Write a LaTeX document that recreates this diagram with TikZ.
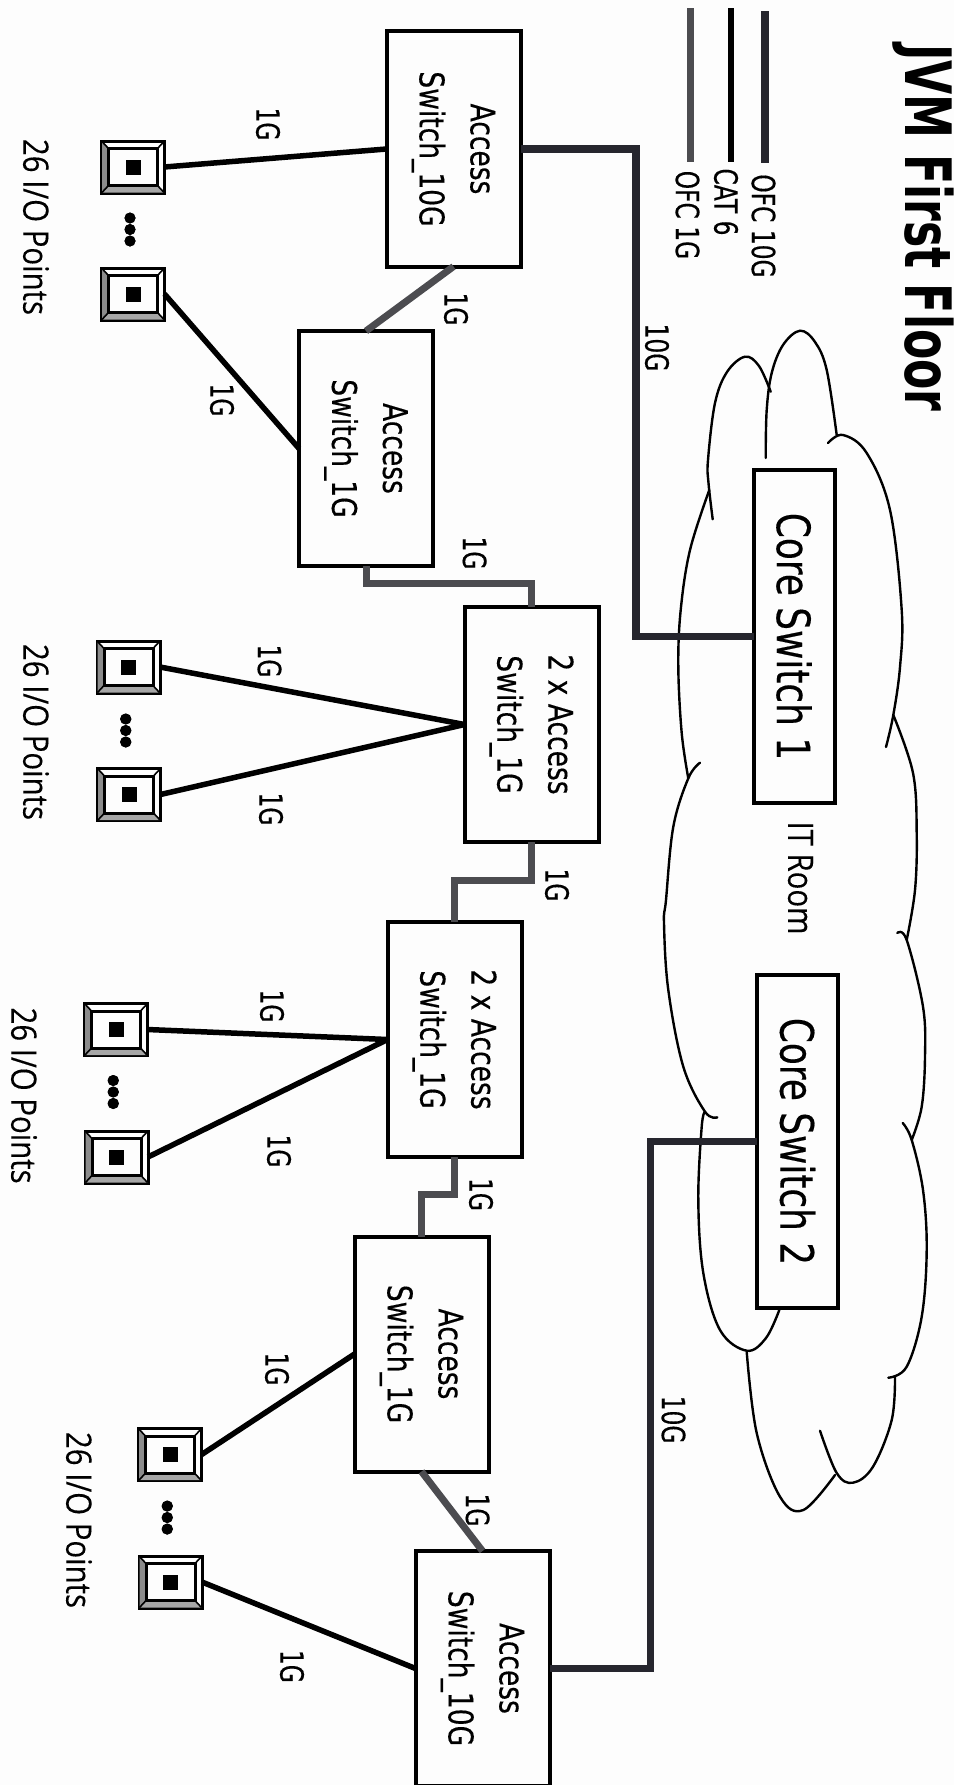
\documentclass[tikz,border=0pt]{standalone}
\usepackage{fontspec}
\setmainfont{DejaVu Sans}
\newfontfamily\boxfont[FakeStretch=.78,FakeBold=.3]{DejaVu Sans}
\newfontfamily\lblfont[FakeStretch=.73,FakeBold=.3]{DejaVu Sans}
\newfontfamily\ttlfont[FakeStretch=.69]{DejaVu Sans}
\newfontfamily\iofont[FakeStretch=.84,FakeBold=.2]{Open Sans}
\definecolor{paper}{HTML}{FDFDFD}
\definecolor{ofcten}{HTML}{26262E}
\definecolor{ofcone}{HTML}{4C4C50}
\tikzset{
  every node/.style={inner sep=0pt,outer sep=0pt},
  swbox/.style={draw=black,line width=4pt,rotate=-90,minimum width=235pt,minimum height=134pt,align=center,
    font=\boxfont\fontsize{34}{51}\selectfont},
  corebox/.style={draw=black,line width=4pt,rotate=-90,minimum width=333pt,minimum height=81pt,
    font=\boxfont\fontsize{46}{50}\selectfont},
  lbl/.style={rotate=-90,font=\lblfont\fontsize{32}{36}\selectfont},
  iotext/.style={rotate=-90,font=\iofont\fontsize{35}{40}\selectfont},
  titletext/.style={rotate=-90,font=\ttlfont\bfseries\fontsize{64}{70}\selectfont},
  outletbox/.style={draw=black,line width=3pt,minimum width=63pt,minimum height=52pt},
  tenwire/.style={draw=ofcten,line width=7.5pt},
  catwire/.style={draw=black,line width=5.5pt},
  onewire/.style={draw=ofcone,line width=7pt},
  cloudline/.style={draw=black,line width=2.4pt,line cap=round},
}
\newcommand{\outletmark}[4]{% name, x, y, dots offset
  \node[outletbox] (#1) at (#2,#3) {};
  \begin{scope}[shift={(#1)}]
    \fill[gray!70] (-31,25.5) -- (31,25.5) -- (24.5,18.5) -- (-24.5,18.5) -- cycle;
    \fill[black!45] (-31,-25.5) -- (-24.5,-18.5) -- (-24.5,18.5) -- (-31,25.5) -- cycle;
    \draw[line width=3pt] (-24.5,-18.5) rectangle (24.5,18.5);
    \draw[line width=1.6pt] (-31,-25.5) -- (-24.5,-18.5) (31,-25.5) -- (24.5,-18.5)
      (-31,25.5) -- (-24.5,18.5) (31,25.5) -- (24.5,18.5);
    \fill (-7.5,-7.5) rectangle (7.5,7.5);
    \fill (-3,#4-11.5) circle[radius=5.5pt];
    \fill (-3,#4) circle[radius=5.5pt];
    \fill (-3,#4+11.5) circle[radius=5.5pt];
  \end{scope}
}
\begin{document}
\begin{tikzpicture}[x=1pt,y=-1pt]
\useasboundingbox (0,0) rectangle (954,1785);
\fill[paper] (0,0) rectangle (954,1785);

% cloud
\draw[cloudline] plot[smooth,tension=.6] coordinates {(712.7,519.3)(708.5,483)(708,460)(715,403)(727,372)(745,356.7)(759,366)(770.7,391.7)};
\draw[cloudline] plot[smooth,tension=.6] coordinates {(765.7,458)(766.7,410)(771.7,373)(783,345)(800,330.7)(815,342)(826.7,370)(836.7,435)};
\draw[cloudline] plot[smooth,tension=.6] coordinates {(828,443)(843,435)(866.7,453)(890,510)(901.7,610)(900,667)(893.3,715)(886,747)};
\draw[cloudline] plot[smooth,tension=.6] coordinates {(893.3,715)(913,773)(916.7,833)(915,890)(906.7,940)};
\draw[cloudline] plot[smooth,tension=.6] coordinates {(897.3,933)(906.7,940)(923,1006.7)(925,1056.7)(921.7,1106.7)(911.7,1140)};
\draw[cloudline] plot[smooth,tension=.6] coordinates {(902.7,1123)(911.7,1140)(923,1190)(926.7,1250)(921.7,1316.7)(906.7,1366.7)(888.3,1377.7)};
\draw[cloudline] plot[smooth,tension=.6] coordinates {(895,1376.7)(891.7,1420)(873,1466.7)(853,1482.7)(836.7,1473)(820,1430.7)};
\draw[cloudline] plot[smooth,tension=.6] coordinates {(835,1475)(803.3,1510)(780,1496.7)(756.7,1433)(746.7,1351.7)};
\draw[cloudline] plot[smooth,tension=.6] coordinates {(779.3,1310)(766,1338)(746.7,1350.7)(720,1330)(703.3,1273)(698.3,1200)(701.7,1126.7)(705,1111.7)};
\draw[cloudline] plot[smooth,tension=.6] coordinates {(717.3,1117.3)(705,1111.7)(683.3,1066.7)(668.3,990)(664,923.3)(666,900)(673.3,826.7)(688.3,778.3)(700,762.7)};
\draw[cloudline] plot[smooth,tension=.6] coordinates {(688.3,778.3)(681.7,733)(678.3,666.7)(680.7,610)(690,550)(709.3,490)};

% title and legend
\node[titletext] (title) at (923,228) {JVM First Floor};
\coordinate (lega) at (765,11.5);
\coordinate (legaend) at (765,162.6);
\coordinate (legb) at (731,8.4);
\coordinate (legbend) at (731,161.5);
\coordinate (legc) at (690,8.4);
\coordinate (legcend) at (690,161.5);
\draw[tenwire] (lega) -- (legaend);
\draw[catwire] (legb) -- (legbend);
\draw[onewire] (legc) -- (legcend);
\node[lbl] (lta) at (763.5,226) {OFC 10G};
\node[lbl] (ltb) at (726,202) {CAT 6};
\node[lbl] (ltc) at (687.5,215) {OFC 1G};

% core switches
\node[corebox] (core1) at (794,636.5) {Core Switch 1};
\node[corebox] (core2) at (797.5,1141.5) {Core Switch 2};
\node[iotext] (itroom) at (800.5,878) {IT Room};

% access switches
\node[swbox] (a1) at (453.5,149) {Access\\Switch\_10G};
\node[swbox] (a2) at (366,448.5) {Access\\Switch\_1G};
\node[swbox] (a3) at (531.5,724.5) {2 x Access\\Switch\_1G};
\node[swbox] (a4) at (454.5,1039.5) {2 x Access\\Switch\_1G};
\node[swbox] (a5) at (421.5,1354) {Access\\Switch\_1G};
\node[swbox] (a6) at (482.5,1668.5) {Access\\Switch\_10G};

% outlets
\outletmark{o1}{133}{167}{62.5}
\outletmark{o2}{133}{294}{-64.5}
\outletmark{o3}{128.5}{667}{63.5}
\outletmark{o4}{129}{794.5}{-64}
\outletmark{o5}{116}{1029.5}{62.5}
\outletmark{o6}{116.5}{1157}{-65}
\outletmark{o7}{170}{1454.6}{63}
\outletmark{o8}{170.5}{1582}{-64.5}
\node[iotext] (io1) at (36,227) {26 I/O Points};
\node[iotext] (io2) at (36,732) {26 I/O Points};
\node[iotext] (io3) at (24,1095.6) {26 I/O Points};
\node[iotext] (io4) at (79,1520) {26 I/O Points};

% connectors
\draw[tenwire] (a1.north) -- ++(115.5,0) |- (core1.south);
\draw[tenwire] (a6.north) -- ++(101,0) |- (core2.south);
\draw[onewire] (a1.east) -- (a2.west);
\draw[onewire] (a2.east) -- ++(0,17.5) -| (a3.west);
\draw[onewire] (a3.east) -- ++(0,38.4) -| (a4.west);
\draw[onewire] (a4.east) -- ++(0,37.5) -| (a5.west);
\draw[onewire] (a5.east) -- (a6.west);
\draw[catwire] (o1.east) -- (a1.south);
\draw[catwire] (o2.east) -- (a2.south);
\draw[catwire] (o3.east) -- (a3.south);
\draw[catwire] (o4.east) -- (a3.south);
\draw[catwire] (o5.east) -- (a4.south);
\draw[catwire] (o6.east) -- (a4.south);
\draw[catwire] (o7.east) -- (a5.south);
\draw[catwire] (o8.east) -- (a6.south);

% connector labels
\node[lbl] (g1) at (268,124) {1G};
\node[lbl] (g2) at (456,309) {1G};
\node[lbl] (g3) at (222,400) {1G};
\node[lbl] (g4) at (474.6,553) {1G};
\node[lbl] (t1) at (657,347.5) {10G};
\node[lbl] (g5) at (269.5,661) {1G};
\node[lbl] (g6) at (271,809) {1G};
\node[lbl] (g7) at (557,885) {1G};
\node[lbl] (g8) at (272,1006) {1G};
\node[lbl] (g9) at (279,1151) {1G};
\node[lbl] (g10) at (481,1194.5) {1G};
\node[lbl] (g11) at (277,1369) {1G};
\node[lbl] (g12) at (477.6,1510) {1G};
\node[lbl] (t2) at (673.5,1419.6) {10G};
\node[lbl] (g13) at (292,1666.4) {1G};
\end{tikzpicture}
\end{document}
